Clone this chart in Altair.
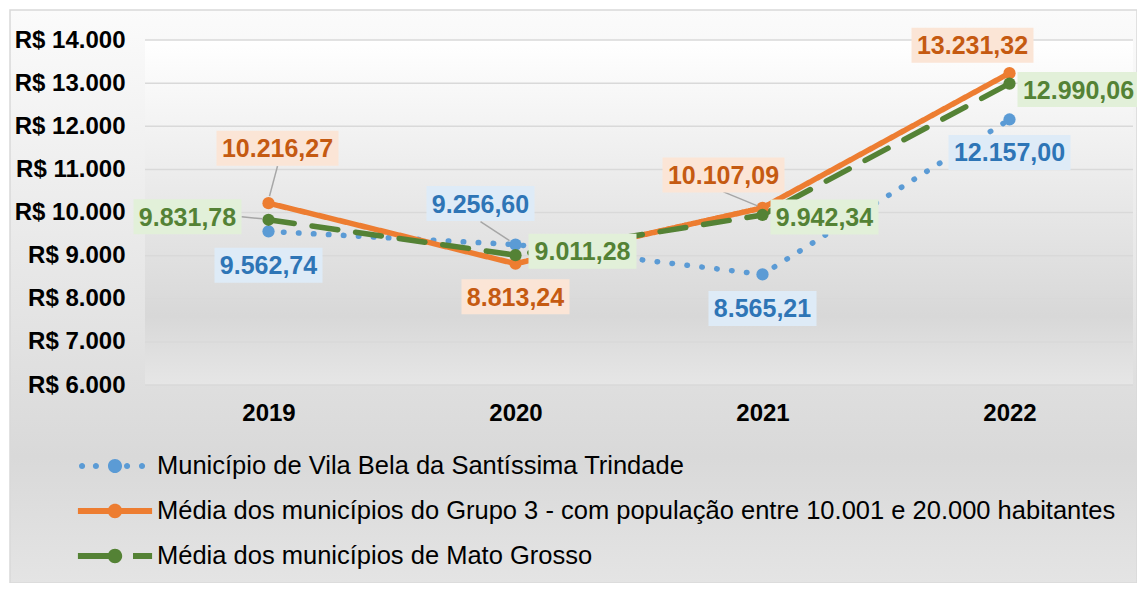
import altair as alt
import pandas as pd

# ---------------- data ----------------
years = ["2019", "2020", "2021", "2022"]
series_names = [
    "Município de Vila Bela da Santíssima Trindade",
    "Média dos municípios do Grupo 3 - com população entre 10.001 e 20.000 habitantes",
    "Média dos municípios de Mato Grosso",
]
vila_bela = [9562.74, 9256.60, 8565.21, 12157.00]
grupo3 = [10216.27, 8813.24, 10107.09, 13231.32]
mato_grosso = [9831.78, 9011.28, 9942.34, 12990.06]
y_ticks = [6000, 7000, 8000, 9000, 10000, 11000, 12000, 13000, 14000]

# ---------------- styles ----------------
FONT = "Liberation Sans, Arial, sans-serif"
line_colors = ["#5B9BD5", "#ED7D31", "#548235"]
text_colors = ["#2E75B6", "#C55A11", "#548235"]
box_colors = ["#DEEBF7", "#FBE5D6", "#E2F0D9"]
dashes = [[0.5, 14.5], [1, 0], [26, 18]]
W, H = 988, 345

# label offsets in pixels relative to the data point (series index, year index)
label_offsets = {
    (0, 0): (0, 34), (0, 1): (-35, -41), (0, 2): (0, 34), (0, 3): (0, 33),
    (1, 0): (9, -55), (1, 1): (0, 33), (1, 2): (-39, -33), (1, 3): (-37, -28),
    (2, 0): (-81, -3), (2, 1): (67, -4), (2, 2): (62, 2), (2, 3): (69, 6),
}
# leader lines: (series, year) -> ((x1, y1), (x2, y2)) offsets in pixels
leaders = {
    (1, 0): ((1, -7), (9, -37)),
    (2, 0): ((-6, -1), (-27, -3)),
    (0, 1): ((-6, -4), (-35, -23)),
    (1, 2): ((-5, -2), (-39, -16)),
}


def brl(v):
    s = f"{v:,.2f}"
    return s.replace(",", "X").replace(".", ",").replace("X", ".")


rows = []
for name, vals in zip(series_names, [vila_bela, grupo3, mato_grosso]):
    for yr, v in zip(years, vals):
        rows.append({"series": name, "year": yr, "value": v, "label": brl(v)})
df = pd.DataFrame(rows)
ticks_df = pd.DataFrame({"tick": y_ticks})

x_scale = alt.Scale(type="point", domain=years, padding=0.5)
y_scale = alt.Scale(domain=[6000, 14000], nice=False, zero=False)
color_scale = alt.Scale(domain=series_names, range=line_colors)
dash_scale = alt.Scale(domain=series_names, range=dashes)

x_axis = alt.Axis(title=None, domain=False, ticks=False, grid=False,
                  labelAngle=0, labelFont=FONT, labelFontSize=24,
                  labelFontWeight="bold", labelColor="#000000",
                  labelPadding=16, zindex=1)
y_axis = alt.Axis(title=None, domain=False, ticks=False, grid=False,
                  values=y_ticks, labelFont=FONT, labelFontSize=24,
                  labelFontWeight="bold", labelColor="#000000",
                  labelPadding=20, zindex=1,
                  labelExpr="'R$ ' + replace(format(datum.value, ',.0f'), ',', '.')")
X = alt.X("year:N", scale=x_scale, sort=years, axis=x_axis)
Y = alt.Y("value:Q", scale=y_scale, axis=y_axis)

one = alt.Data(values=[{"a": 1}])

outer_bg = alt.Chart(one).mark_rect(
    fill=alt.LinearGradient(gradient="linear", x1=0, x2=0, y1=0, y2=1,
                            stops=[alt.GradientStop(color="#fbfbfb", offset=0),
                                   alt.GradientStop(color="#d9d9d9", offset=0.78),
                                   alt.GradientStop(color="#e4e4e4", offset=1)]),
    stroke="#d9d9d9", strokeWidth=1.5,
).encode(x=alt.value(-135), x2=alt.value(992), y=alt.value(-30), y2=alt.value(543))

plot_bg = alt.Chart(one).mark_rect(
    fill=alt.LinearGradient(gradient="linear", x1=0, x2=0, y1=0, y2=1,
                            stops=[alt.GradientStop(color="#ffffff", offset=0),
                                   alt.GradientStop(color="#d8d8d8", offset=0.8),
                                   alt.GradientStop(color="#e6e6e6", offset=1)]),
).encode(x=alt.value(0), x2=alt.value(W), y=alt.value(0), y2=alt.value(H))

grid = alt.Chart(ticks_df).mark_rule(color="#d9d9d9", strokeWidth=1.5).encode(
    y=alt.Y("tick:Q", scale=y_scale, axis=y_axis),
    x=alt.value(0), x2=alt.value(W),
)


# ---- legend symbols (filled shapes in unit coords, 1 unit = 18 px) ----
def circ(cx, r):
    return (f"M{cx + r},0A{r},{r},0,1,1,{cx - r},0"
            f"A{r},{r},0,1,1,{cx + r},0Z")


def bar(x0, x1, h=0.17):
    return f"M{x0},{-h}H{x1}V{h}H{x0}Z"


sym_paths = [
    circ(-1.83, 0.17) + circ(-1.06, 0.17) + circ(0, 0.39) + circ(0.67, 0.17) + circ(1.5, 0.17),
    bar(-2.06, 2.06) + circ(0, 0.4),
    bar(-2.06, -0.2) + bar(1.0, 2.06) + circ(0, 0.4),
]
sym_expr = (f"datum.value == '{series_names[0]}' ? '{sym_paths[0]}' : "
            f"datum.value == '{series_names[1]}' ? '{sym_paths[1]}' : '{sym_paths[2]}'")

legend = alt.Legend(
    title=None, orient="none", legendX=-48, legendY=408, direction="vertical",
    symbolType=alt.ExprRef(expr=sym_expr), symbolSize=1296,
    symbolStrokeWidth=0, symbolStrokeColor="transparent",
    symbolFillColor=alt.ExprRef(expr="scale('color', datum.value)"),
    symbolOpacity=1,
    labelFont=FONT, labelFontSize=25.5, labelColor="#000000", labelOffset=24,
    rowPadding=13, padding=0, labelLimit=1200,
)

lines = alt.Chart(df).mark_line(strokeWidth=5.5, strokeCap="round").encode(
    x=X, y=Y,
    color=alt.Color("series:N", scale=color_scale, sort=series_names, legend=legend),
    strokeDash=alt.StrokeDash("series:N", scale=dash_scale, sort=series_names, legend=legend),
    order=alt.Order("year:N"),
)

points = alt.Chart(df).mark_circle(size=150, opacity=1).encode(
    x=X, y=Y,
    color=alt.Color("series:N", scale=color_scale, sort=series_names, legend=None),
)

layers = [outer_bg, plot_bg, grid, lines, points]

for (si, yi), ((x1, y1), (x2, y2)) in leaders.items():
    layers.append(
        alt.Chart(df).transform_filter(
            (alt.datum.series == series_names[si]) & (alt.datum.year == years[yi])
        ).mark_rule(color="#a6a6a6", strokeWidth=1.5,
                    xOffset=x1, yOffset=y1, x2Offset=x2, y2Offset=y2).encode(
            x=X, y=Y, x2="year:N", y2="value:Q")
    )

for (si, yi), (dx, dy) in label_offsets.items():
    name = series_names[si]
    lab = brl([vila_bela, grupo3, mato_grosso][si][yi])
    bw = 14 * len(lab) - 4
    base = alt.Chart(df).transform_filter(
        (alt.datum.series == name) & (alt.datum.year == years[yi])
    )
    layers.append(
        base.mark_rect(width=bw, height=35, fill=box_colors[si],
                       xOffset=dx, yOffset=dy).encode(x=X, y=Y)
    )
    layers.append(
        base.mark_text(font=FONT, fontSize=25, fontWeight="bold",
                       color=text_colors[si], align="center", baseline="middle",
                       xOffset=dx, yOffset=dy + 1).encode(x=X, y=Y, text="label:N")
    )

chart = alt.layer(*layers).properties(
    width=W, height=H,
    padding={"left": 137, "top": 32, "right": 4, "bottom": 198},
    autosize=alt.AutoSizeParams(type="none"),
    background="#ffffff",
).configure_view(stroke=None).configure(font=FONT)

chart.save("out.html", embed_options={"renderer": "svg", "actions": False})
